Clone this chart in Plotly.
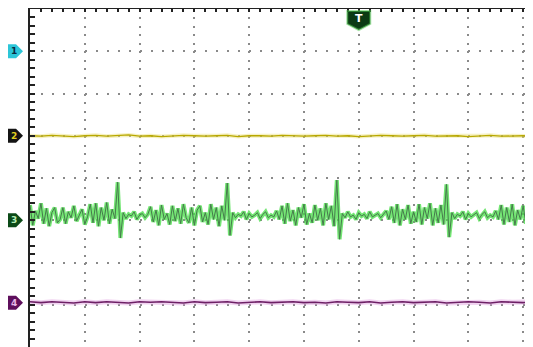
import numpy as np
import plotly.graph_objects as go

# ---- data (values in vertical divisions, samples every 0.05 div of time) ----
ch3_green = [
    -0.64, -1.12, -0.78, -0.96, -0.60, -1.08, -0.72, -1.14, -0.82, -0.70, -1.06, -0.98,
    -0.70, -1.08, -0.80, -0.94, -0.66, -1.02, -0.88, -0.74, -1.10, -0.92, -0.62, -1.06,
    -0.60, -1.14, -0.70, -1.00, -0.58, -1.08, -0.74, -0.96,
    -0.10, -1.42,
    -0.82, -0.96, -0.86, -0.90, -0.80, -0.98, -0.88, -0.84, -0.94, -0.86,
    -0.68, -1.04, -0.76, -1.12, -0.64, -0.98, -0.84, -1.10, -0.66, -1.02, -0.72, -1.08,
    -0.62, -0.94, -1.06, -0.70, -1.12, -0.76, -0.66, -1.04, -0.82, -1.10, -0.62, -0.98, -0.70, -1.14, -0.66, -1.00,
    -0.12, -1.36,
    -0.82, -0.94, -0.86, -0.90, -0.80, -0.98, -0.84, -0.92, -0.88, -0.82, -0.96, -0.86, -0.80, -0.94, -0.88, -0.92, -0.78, -0.98,
    -0.66, -1.08, -0.60, -1.02, -0.76, -1.12, -0.70, -0.94, -0.62, -1.10, -0.84, -1.06, -0.64, -1.00, -0.72, -1.12, -0.60, -0.98, -0.66, -1.14,
    -0.05, -1.45,
    -0.84, -0.94, -0.80, -0.92, -0.88, -0.98, -0.82, -0.90, -0.86, -0.96, -0.80, -0.92, -0.88, -0.84, -0.94, -0.86, -0.78, -0.98,
    -0.68, -1.06, -0.62, -1.12, -0.74, -0.98, -0.64, -1.08, -0.80, -1.04, -0.62, -1.10, -0.70, -0.96, -0.60, -1.12, -0.72, -1.06, -0.64, -1.10,
    -0.15, -1.40,
    -0.82, -0.96, -0.86, -0.90, -0.80, -0.98, -0.84, -0.92, -0.88, -0.82, -0.96, -0.86, -0.80, -0.94, -0.88, -0.92, -0.78, -0.98,
    -0.64, -1.10, -0.70, -1.04, -0.62, -1.12, -0.76, -0.98, -0.66, -1.08, -0.72, -1.02,
]
green_step = 0.05

ch2_yellow = [
    1.00, 0.99, 1.01, 1.00, 0.98, 1.00, 1.01, 0.99, 1.00, 1.02, 0.99, 1.00,
    0.98, 1.00, 1.01, 1.00, 0.99, 1.00, 1.01, 0.98, 1.00, 1.00, 0.99, 1.01,
    1.00, 0.99, 1.00, 1.01, 0.99, 1.00, 0.98, 1.00, 1.01, 1.00, 0.99, 1.00,
    1.01, 0.99, 1.00, 1.00, 0.98, 1.00, 1.01, 0.99, 1.00, 1.00, 0.99,
]
ch4_purple = [
    -2.93, -2.95, -2.93, -2.94, -2.96, -2.93, -2.95, -2.93, -2.94, -2.96, -2.93, -2.94,
    -2.93, -2.95, -2.96, -2.93, -2.95, -2.94, -2.93, -2.96, -2.94, -2.93, -2.95, -2.94,
    -2.93, -2.95, -2.94, -2.96, -2.93, -2.94, -2.95, -2.93, -2.96, -2.94, -2.93, -2.95,
    -2.94, -2.93, -2.96, -2.95, -2.93, -2.94, -2.96, -2.93, -2.94, -2.95, -2.93,
]
flat_step = 0.2

channel_labels = ["1", "2", "3", "4"]
channel_levels = [3.0, 1.0, -1.0, -2.95]
channel_fill = ["#2cc6d8", "#151515", "#0c4a18", "#5e0f5c"]
channel_text = ["#0a2a40", "#e0d020", "#b8f0b8", "#e8b8e8"]

trigger_label = "T"
trigger_pos = 6.0

x_range = [0, 9.18]
y_range = [-4, 4]

t_green = np.arange(len(ch3_green)) * green_step
t_flat = np.arange(len(ch2_yellow)) * flat_step

fig = go.Figure()

# yellow channel 2
fig.add_trace(go.Scatter(x=t_flat, y=ch2_yellow, mode="lines",
                         line=dict(color="rgba(235,225,120,0.45)", width=4), hoverinfo="skip"))
fig.add_trace(go.Scatter(x=t_flat, y=ch2_yellow, mode="lines",
                         line=dict(color="#b8a800", width=1.3), hoverinfo="skip"))
# green channel 3
fig.add_trace(go.Scatter(x=t_green, y=ch3_green, mode="lines",
                         line=dict(color="rgba(70,222,70,0.75)", width=4), hoverinfo="skip"))
fig.add_trace(go.Scatter(x=t_green, y=ch3_green, mode="lines",
                         line=dict(color="#467a4c", width=1), hoverinfo="skip"))
# purple channel 4
fig.add_trace(go.Scatter(x=t_flat, y=ch4_purple, mode="lines",
                         line=dict(color="rgba(225,160,225,0.45)", width=5), hoverinfo="skip"))
fig.add_trace(go.Scatter(x=t_flat, y=ch4_purple, mode="lines",
                         line=dict(color="#6e2066", width=1.6), hoverinfo="skip"))

# page body has an 8px margin: size the figure so the plot lands where the reference has it
BODY = 8
W, H = 533 - BODY, 347 - BODY
L, T = 30 - BODY, 1
pw = W - L
ph = H - T
px_per_x = pw / (x_range[1] - x_range[0])
px_per_y = ph / (y_range[1] - y_range[0])


def pxx(p):
    # page pixel -> paper fraction
    return (p - BODY - L) / pw


shapes = []
annotations = []
for lab, lev, fc, tc in zip(channel_labels, channel_levels, channel_fill, channel_text):
    hh = 7 / px_per_y
    x0, x1, x2 = pxx(8), pxx(16), pxx(23)
    path = (f"M{x0},{lev + hh} L{x1},{lev + hh} L{x2},{lev} "
            f"L{x1},{lev - hh} L{x0},{lev - hh} Z")
    shapes.append(dict(type="path", path=path, xref="paper", yref="y",
                       fillcolor=fc, line=dict(width=0), layer="above"))
    annotations.append(dict(x=pxx(13.5), y=lev, xref="paper", yref="y", text=f"<b>{lab}</b>",
                            showarrow=False, font=dict(size=9, color=tc, family="DejaVu Sans"),
                            xanchor="center", yanchor="middle"))

# trigger marker
tw = 11.5 / px_per_x
ty0 = y_range[1] - 2 / px_per_y
ty1 = y_range[1] - 15 / px_per_y
ty2 = y_range[1] - 21 / px_per_y
tpath = (f"M{trigger_pos - tw},{ty0} L{trigger_pos + tw},{ty0} L{trigger_pos + tw},{ty1} "
         f"L{trigger_pos},{ty2} L{trigger_pos - tw},{ty1} Z")
shapes.append(dict(type="path", path=tpath, xref="x", yref="y",
                   fillcolor="#0b3a14", line=dict(color="rgba(80,200,80,0.5)", width=2), layer="above"))
annotations.append(dict(x=trigger_pos, y=y_range[1] - 9 / px_per_y, xref="x", yref="y",
                        text=f"<b>{trigger_label}</b>", showarrow=False,
                        font=dict(size=11, color="white", family="DejaVu Sans"),
                        xanchor="center", yanchor="middle"))

fig.update_layout(
    width=W, height=H,
    margin=dict(l=L, r=0, t=T, b=0, autoexpand=False),
    paper_bgcolor="white", plot_bgcolor="white",
    showlegend=False,
    shapes=shapes, annotations=annotations,
    xaxis=dict(range=x_range, side="top", showline=True, linecolor="#222", linewidth=1.5,
               ticks="inside", ticklen=3, tickwidth=1.5, tickcolor="#222", dtick=1, tick0=0,
               showticklabels=False, zeroline=False, automargin=False,
               showgrid=True, gridcolor="#8a8a8a", gridwidth=1.5, griddash="2px,6.48px",
               minor=dict(dtick=0.2, tick0=0, ticks="inside", ticklen=3, tickwidth=1.5,
                          tickcolor="#222", showgrid=False),
               fixedrange=True),
    yaxis=dict(range=y_range, showline=True, linecolor="#222", linewidth=1.5,
               ticks="inside", ticklen=5, tickwidth=1.5, tickcolor="#222", dtick=1, tick0=0,
               showticklabels=False, zeroline=False, automargin=False,
               showgrid=True, gridcolor="#8a8a8a", gridwidth=1.5, griddash="2px,8.96px",
               minor=dict(dtick=0.2, tick0=0, ticks="inside", ticklen=5, tickwidth=1.5,
                          tickcolor="#222", showgrid=False),
               fixedrange=True),
)

fig.write_html("out.html")
